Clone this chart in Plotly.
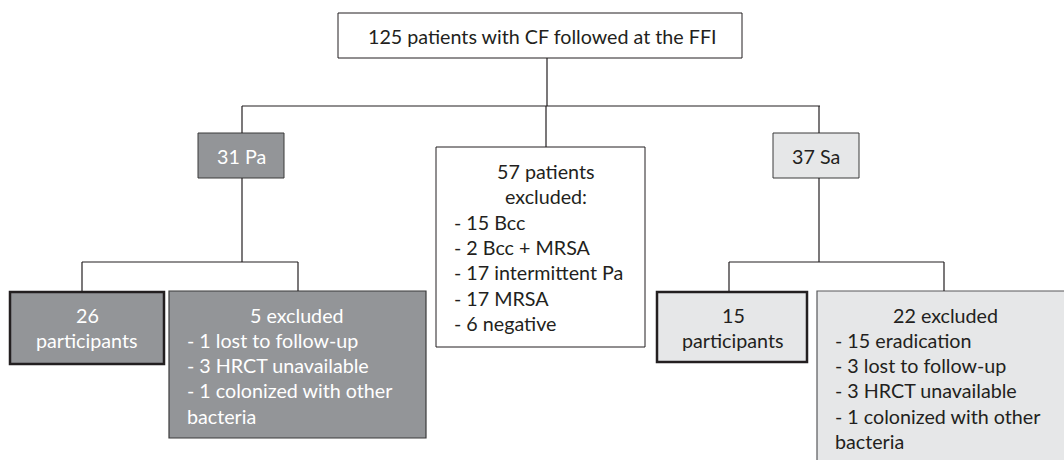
import plotly.graph_objects as go

W, H = 1064, 460
FONT = "Lato"
FS = 19.7

# ---- content ----
top_text = "125 patients with CF followed at the FFI"
pa_text = "31 Pa"
sa_text = "37 Sa"
center_header = ["57 patients", "excluded:"]
center_items = ["- 15 Bcc", "- 2 Bcc + MRSA", "- 17 intermittent Pa", "- 17 MRSA", "- 6 negative"]
pa_part = ["26", "participants"]
pa_excl_header = "5 excluded"
pa_excl_items = ["- 1 lost to follow-up", "- 3 HRCT unavailable", "- 1 colonized with other", "bacteria"]
sa_part = ["15", "participants"]
sa_excl_header = "22 excluded"
sa_excl_items = ["- 15 eradication", "- 3 lost to follow-up", "- 3 HRCT unavailable", "- 1 colonized with other", "bacteria"]

DARK = "#939598"
LIGHT = "#e6e7e8"
EDGE = "#231f20"

# ---- layout (box geometry: x0, y0, x1, y1) ----
boxes = [
    dict(x0=338, y0=13, x1=742, y1=58, fill="white", line=EDGE, w=1),
    dict(x0=198, y0=133, x1=284, y1=178, fill=DARK, line="#3a3a3b", w=1),
    dict(x0=773, y0=133, x1=859, y1=178, fill=LIGHT, line="#3a3a3b", w=1),
    dict(x0=436, y0=147, x1=645, y1=347, fill="white", line=EDGE, w=1),
    dict(x0=10, y0=292, x1=164, y1=364, fill=DARK, line=EDGE, w=2.5),
    dict(x0=169, y0=291, x1=426, y1=438, fill=DARK, line="#3a3a3b", w=1.2),
    dict(x0=657, y0=292, x1=807, y1=362, fill=LIGHT, line=EDGE, w=2.5),
    dict(x0=817, y0=291, x1=1070, y1=470, fill=LIGHT, line="#58595b", w=1.2),
]
connectors = [
    (547, 58, 547, 106),
    (242, 106, 820, 106),
    (242, 106, 242, 133),
    (819, 106, 819, 133),
    (546, 106, 546, 147),
    (242, 178, 242, 262),
    (82, 262, 298, 262),
    (82, 262, 82, 292),
    (298, 262, 298, 291),
    (819, 178, 819, 262),
    (729, 262, 944, 262),
    (729, 262, 729, 292),
    (944, 262, 944, 291),
]

fig = go.Figure()
shapes = []
for b in boxes:
    shapes.append(dict(type="rect", xref="x", yref="y", x0=b["x0"], y0=b["y0"], x1=b["x1"], y1=b["y1"],
                       fillcolor=b["fill"], line=dict(color=b["line"], width=b["w"]), layer="below"))
for (x0, y0, x1, y1) in connectors:
    shapes.append(dict(type="line", xref="x", yref="y", x0=x0, y0=y0, x1=x1, y1=y1,
                       line=dict(color=EDGE, width=1.2), layer="below"))

ann = []
def txt(x, y, s, color="#231f20", anchor="center"):
    ann.append(dict(x=x, y=y, xref="x", yref="y", text=s, showarrow=False, xanchor=anchor, yanchor="middle",
                    font=dict(family=FONT, size=FS, color=color)))

LS = 25.4
txt(542, 36, top_text)
txt(241, 156, pa_text, color="white")
txt(816, 156, sa_text)
for i, s in enumerate(center_header):
    txt(546, 171 + i * LS, s)
for i, s in enumerate(center_items):
    txt(452, 222 + i * LS, s, anchor="left")
for i, s in enumerate(pa_part):
    txt(87, 315 + i * LS, s, color="white")
txt(297, 315, pa_excl_header, color="white")
for i, s in enumerate(pa_excl_items):
    txt(185, 340 + i * LS, s, color="white", anchor="left")
for i, s in enumerate(sa_part):
    txt(733, 315 + i * LS, s)
txt(945, 315, sa_excl_header)
for i, s in enumerate(sa_excl_items):
    txt(833, 340 + i * LS, s, anchor="left")

fig.update_layout(
    width=W, height=H, margin=dict(l=0, r=0, t=0, b=0),
    paper_bgcolor="white", plot_bgcolor="white",
    shapes=shapes, annotations=ann, showlegend=False,
    xaxis=dict(range=[0, W], visible=False, fixedrange=True),
    yaxis=dict(range=[H, 0], visible=False, fixedrange=True),
)
fig.write_html("out.html", config={"displayModeBar": False},
               post_script="document.body.style.margin='0';document.body.style.overflow='hidden';")
